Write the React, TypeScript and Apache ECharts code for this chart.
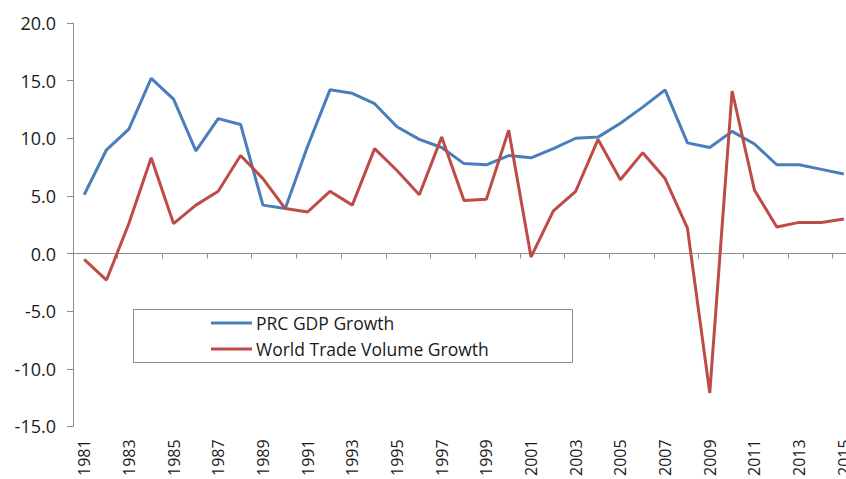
import React, { useEffect, useRef } from "react";
import * as echarts from "echarts";

const years: string[] = [
  "1981", "1982", "1983", "1984", "1985", "1986", "1987", "1988", "1989", "1990",
  "1991", "1992", "1993", "1994", "1995", "1996", "1997", "1998", "1999", "2000",
  "2001", "2002", "2003", "2004", "2005", "2006", "2007", "2008", "2009", "2010",
  "2011", "2012", "2013", "2014", "2015",
];

const prcGdpGrowth: number[] = [
  5.1, 9.0, 10.8, 15.2, 13.4, 8.9, 11.7, 11.2, 4.2, 3.9,
  9.3, 14.2, 13.9, 13.0, 11.0, 9.9, 9.2, 7.8, 7.7, 8.5,
  8.3, 9.1, 10.0, 10.1, 11.3, 12.7, 14.2, 9.6, 9.2, 10.6,
  9.5, 7.7, 7.7, 7.3, 6.9,
];

const worldTradeGrowth: number[] = [
  -0.5, -2.3, 2.6, 8.3, 2.6, 4.2, 5.4, 8.5, 6.5, 3.9,
  3.6, 5.4, 4.2, 9.1, 7.2, 5.1, 10.1, 4.6, 4.7, 10.7,
  -0.3, 3.7, 5.4, 9.9, 6.4, 8.75, 6.5, 2.2, -12.1, 14.1,
  5.5, 2.3, 2.7, 2.7, 3.0,
];

const seriesNames: string[] = ["PRC GDP Growth", "World Trade Volume Growth"];

const FONT = "Open Sans";
const AXIS_GRAY = "#8c8c8c";
const TEXT = "#1a1a1a";

export default function App() {
  const ref = useRef<HTMLDivElement>(null);

  useEffect(() => {
    if (!ref.current) return;
    const chart = echarts.init(ref.current, undefined, { renderer: "svg" });
    chart.setOption({
      animation: false,
      backgroundColor: "#ffffff",
      grid: { left: 73, top: 23, width: 782, height: 407, containLabel: false },
      legend: {
        orient: "vertical",
        left: 211,
        top: 314,
        icon: "rect",
        itemWidth: 41,
        itemHeight: 3,
        itemGap: 8,
        padding: 0,
        textStyle: { fontFamily: FONT, fontSize: 17.5, color: TEXT, padding: [0, 0, 0, -1] },
        data: seriesNames,
      },
      graphic: [
        {
          type: "rect",
          shape: { x: 133.5, y: 309.5, width: 439, height: 53 },
          style: { fill: "none", stroke: AXIS_GRAY, lineWidth: 1 },
          silent: true,
        },
      ],
      xAxis: [
        {
          type: "category",
          data: years,
          boundaryGap: true,
          axisLine: { onZero: true, lineStyle: { color: AXIS_GRAY, width: 1 } },
          axisTick: { show: true, interval: 1, length: 5, lineStyle: { color: AXIS_GRAY } },
          axisLabel: { show: false },
          splitLine: { show: false },
        },
        {
          type: "category",
          data: years,
          position: "bottom",
          boundaryGap: true,
          axisLine: { show: false, onZero: false },
          axisTick: { show: false },
          axisLabel: {
            show: true,
            interval: 1,
            rotate: 90,
            margin: 13,
            fontFamily: FONT,
            fontSize: 16,
            color: TEXT,
          },
          splitLine: { show: false },
        },
      ],
      yAxis: {
        type: "value",
        min: -15,
        max: 20,
        interval: 5,
        axisLine: { show: true, lineStyle: { color: AXIS_GRAY, width: 1 } },
        axisTick: { show: true, length: 6, lineStyle: { color: AXIS_GRAY } },
        axisLabel: {
          margin: 17,
          fontFamily: FONT,
          fontSize: 18,
          color: TEXT,
          formatter: (v: number) => v.toFixed(1),
        },
        splitLine: { show: false },
      },
      series: [
        {
          name: seriesNames[0],
          type: "line",
          xAxisIndex: 0,
          data: prcGdpGrowth,
          symbol: "none",
          lineStyle: { color: "#4A7EBB", width: 3 },
          itemStyle: { color: "#4A7EBB" },
        },
        {
          name: seriesNames[1],
          type: "line",
          xAxisIndex: 0,
          data: worldTradeGrowth,
          symbol: "none",
          lineStyle: { color: "#BE4B48", width: 3 },
          itemStyle: { color: "#BE4B48" },
        },
      ],
    });
    return () => chart.dispose();
  }, []);

  return (
    <div
      ref={ref}
      style={{ position: "fixed", left: 0, top: 0, width: 870, height: 479 }}
    />
  );
}
